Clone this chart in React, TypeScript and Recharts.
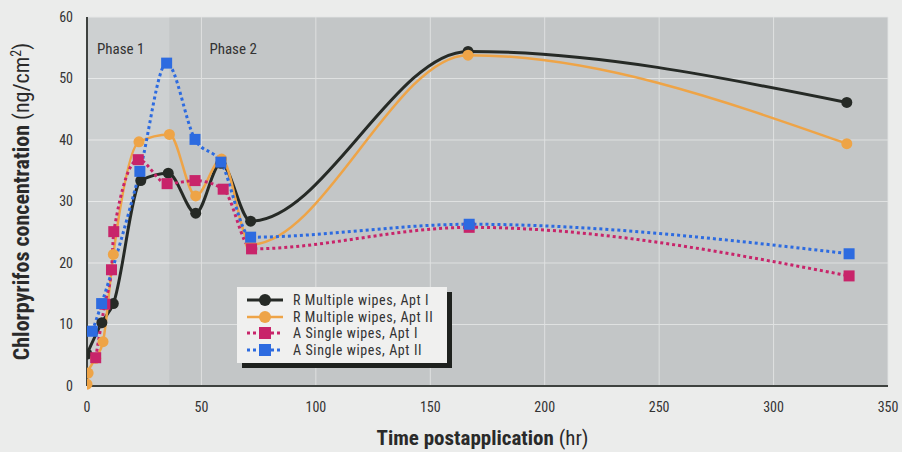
import React from 'react';
import { LineChart, Line, XAxis, YAxis, CartesianGrid, ReferenceArea, Legend } from 'recharts';

const FONT = "'Liberation Sans Narrow', 'Arial Narrow', 'Roboto Condensed', 'Liberation Sans', sans-serif";

const xTicks = [0, 50, 100, 150, 200, 250, 300, 350];
const yTicks = [0, 10, 20, 30, 40, 50, 60];

// R = repeated (multiple) wipes, A = single wipes; hr vs ng/cm2
const rMultipleAptI = [
  { hr: 0, v: 5.2 }, { hr: 6.5, v: 10.3 }, { hr: 11.5, v: 13.4 }, { hr: 23.5, v: 33.4 },
  { hr: 35.5, v: 34.6 }, { hr: 47.5, v: 28.1 }, { hr: 58.5, v: 36.2 }, { hr: 71.5, v: 26.8 },
  { hr: 166.5, v: 54.4 }, { hr: 332, v: 46.1 },
];
const rMultipleAptII = [
  { hr: 0, v: 0.3 }, { hr: 0.5, v: 2.1 }, { hr: 3.8, v: 4.5 }, { hr: 7, v: 7.2 },
  { hr: 11.5, v: 21.4 }, { hr: 22.7, v: 39.7 }, { hr: 36, v: 40.9 }, { hr: 47.5, v: 30.9 },
  { hr: 58.8, v: 36.9 }, { hr: 71.5, v: 23 }, { hr: 166.5, v: 53.8 }, { hr: 332, v: 39.4 },
];
const aSingleAptI = [
  { hr: 3.8, v: 4.6 }, { hr: 7.8, v: 13.3 }, { hr: 10.7, v: 18.9 }, { hr: 11.7, v: 25.1 },
  { hr: 22.4, v: 36.8 }, { hr: 35, v: 32.9 }, { hr: 47.2, v: 33.4 }, { hr: 59.5, v: 32 },
  { hr: 71.9, v: 22.3 }, { hr: 167, v: 25.8 }, { hr: 333, v: 17.9 },
];
const aSingleAptII = [
  { hr: 2.3, v: 8.9 }, { hr: 6.4, v: 13.4 }, { hr: 23.1, v: 34.9 }, { hr: 34.8, v: 52.5 },
  { hr: 47.2, v: 40.1 }, { hr: 58.5, v: 36.4 }, { hr: 71.5, v: 24.2 }, { hr: 167, v: 26.3 },
  { hr: 333, v: 21.5 },
];

const BLACK = '#262a26';
const ORANGE = '#eea447';
const PINK = '#c8246a';
const BLUE = '#2d6be0';

const series = [
  { name: 'R Multiple wipes, Apt I', data: rMultipleAptI, color: BLACK, shape: 'circle', width: 3, dash: undefined },
  { name: 'R Multiple wipes, Apt II', data: rMultipleAptII, color: ORANGE, shape: 'circle', width: 2.5, dash: undefined },
  { name: 'A Single wipes, Apt I', data: aSingleAptI, color: PINK, shape: 'square', width: 3, dash: '3 3' },
  { name: 'A Single wipes, Apt II', data: aSingleAptII, color: BLUE, shape: 'square', width: 3, dash: '3 3' },
];

const makeDot = (color: string, shape: string) => (props: any) => {
  const { cx, cy, index } = props;
  if (cx == null || cy == null) return <g key={index} />;
  if (shape === 'circle') return <circle key={index} cx={cx} cy={cy} r={5.5} fill={color} />;
  return <rect key={index} x={cx - 5.5} y={cy - 5.5} width={11} height={11} fill={color} />;
};

const LegendBox = () => (
  <div style={{
    width: 210, height: 76, background: '#f0f0ef', boxShadow: '5px 5px 0 #1e211e',
    fontFamily: FONT, fontSize: 14, color: '#333', paddingTop: 5, boxSizing: 'border-box',
  }}>
    {series.map((s) => (
      <div key={s.name} style={{ display: 'flex', alignItems: 'center', height: 16.5 }}>
        <svg width={56} height={14} style={{ flex: 'none' }}>
          <line x1={10} x2={46} y1={7} y2={7} stroke={s.color} strokeWidth={s.width} strokeDasharray={s.dash} />
          {s.shape === 'circle'
            ? <circle cx={28} cy={7} r={6} fill={s.color} />
            : <rect x={22} y={1} width={12} height={12} fill={s.color} />}
        </svg>
        <span style={{ lineHeight: '16.5px', letterSpacing: 0.6 }}>{s.name}</span>
      </div>
    ))}
  </div>
);

const phaseLabel = (text: string, dx: number) => (props: any) => {
  const { viewBox } = props;
  return (
    <text x={viewBox.x + dx} y={viewBox.y + 37} fill="#333" fontFamily={FONT} fontSize={15}>{text}</text>
  );
};

const App = () => (
  <div style={{ position: 'absolute', left: 0, top: 0, width: 902, height: 452, background: '#ebeceb' }}>
    <LineChart width={902} height={452} data={rMultipleAptI} margin={{ top: 17, right: 14, bottom: 36, left: 45 }}>
      <CartesianGrid stroke="#e4e6e6" strokeWidth={1} fill="#c7cacb" fillOpacity={1} />
      <ReferenceArea x1={0} x2={36} fill="#ffffff" fillOpacity={0.12} stroke="none" label={phaseLabel('Phase 1', 10)} />
      <ReferenceArea x1={36} x2={350} fill="#000000" fillOpacity={0.02} stroke="none" label={phaseLabel('Phase 2', 40)} />
      <XAxis
        type="number" dataKey="hr" domain={[0, 350]} ticks={xTicks} allowDataOverflow
        axisLine={{ stroke: '#3e423f', strokeWidth: 2 }} tickLine={false} tickSize={0} tickMargin={16} height={30}
        tick={{ fill: '#333', fontSize: 14, fontFamily: FONT }}
        label={{
          content: ({ viewBox }: any) => (
            <text x={viewBox.x + viewBox.width / 2 - 5} y={viewBox.y + 59} textAnchor="middle" fill="#2a2a2a" fontFamily={FONT} fontSize={21}>
              <tspan fontWeight="bold">Time postapplication</tspan>
              <tspan> (hr)</tspan>
            </text>
          ),
        }}
      />
      <YAxis
        type="number" domain={[0, 60]} ticks={yTicks} width={42}
        axisLine={{ stroke: '#3e423f', strokeWidth: 2 }} tickLine={false} tickSize={0} tickMargin={14}
        tick={{ fill: '#333', fontSize: 14, fontFamily: FONT }}
        label={{
          content: ({ viewBox }: any) => {
            const cx = 29;
            const cy = viewBox.y + viewBox.height / 2;
            return (
              <text x={cx} y={cy} transform={`rotate(-90 ${cx} ${cy})`} textAnchor="middle" fill="#2a2a2a" fontFamily={FONT} fontSize={22}>
                <tspan fontWeight="bold">Chlorpyrifos concentration</tspan>
                <tspan> (ng/cm</tspan>
                <tspan fontSize={14} dy={-8}>2</tspan>
                <tspan dy={8}>)</tspan>
              </text>
            );
          },
        }}
      />
      {series.map((s) => (
        <Line
          key={s.name}
          data={s.data}
          dataKey="v"
          name={s.name}
          type="monotone"
          stroke={s.color}
          strokeWidth={s.width}
          strokeDasharray={s.dash}
          dot={makeDot(s.color, s.shape)}
          activeDot={false}
          isAnimationActive={false}
        />
      ))}
      <Legend
        layout="horizontal" verticalAlign="middle" align="center"
        wrapperStyle={{ left: 237, top: 287, width: 210, height: 76 }}
        content={() => <LegendBox />}
      />
    </LineChart>
  </div>
);

export default App;
